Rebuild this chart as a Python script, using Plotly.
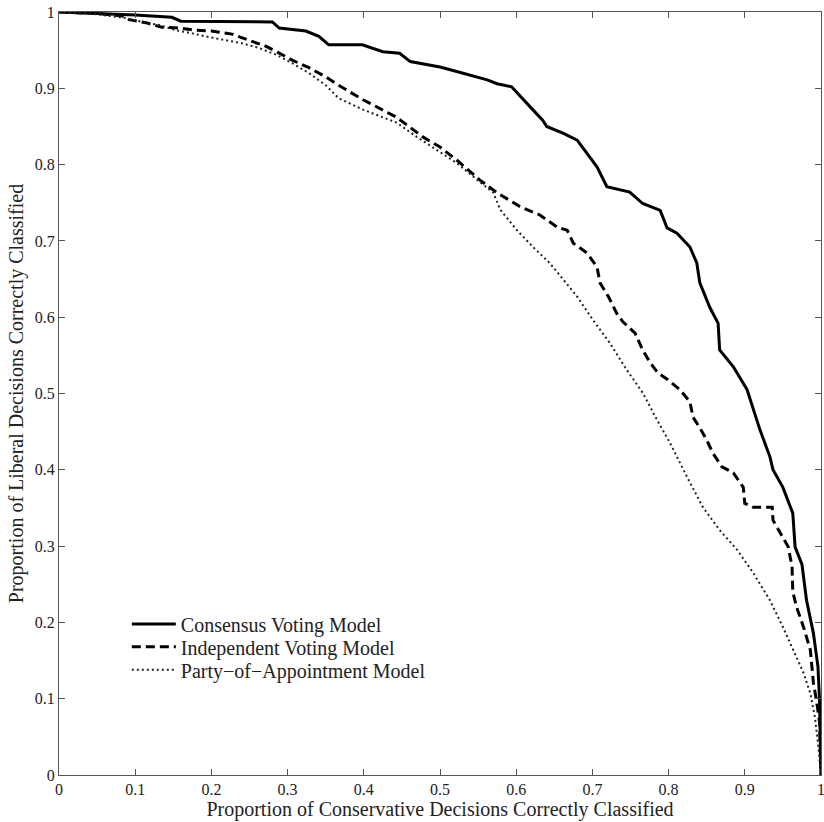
import plotly.graph_objects as go

# Consensus Voting Model (solid)
cons_x = [0.0, 0.05, 0.10, 0.148, 0.16, 0.28, 0.289, 0.324, 0.341, 0.354, 0.398, 0.425, 0.447, 0.461,
          0.50, 0.522, 0.562, 0.575, 0.594, 0.618, 0.635, 0.64, 0.662, 0.68, 0.693, 0.706, 0.719,
          0.749, 0.766, 0.789, 0.798, 0.811, 0.828, 0.837, 0.841, 0.854, 0.865, 0.867, 0.885,
          0.903, 0.92, 0.933, 0.937, 0.95, 0.963, 0.966, 0.975, 0.981, 0.99, 0.996, 0.998, 1.0]
cons_y = [1.0, 0.998, 0.996, 0.993, 0.988, 0.987, 0.979, 0.975, 0.968, 0.957, 0.957, 0.948, 0.946, 0.935,
          0.928, 0.922, 0.911, 0.906, 0.902, 0.876, 0.858, 0.85, 0.841, 0.832, 0.815, 0.797, 0.771,
          0.764, 0.749, 0.740, 0.717, 0.710, 0.692, 0.671, 0.645, 0.613, 0.592, 0.557, 0.535,
          0.505, 0.452, 0.417, 0.40, 0.377, 0.343, 0.299, 0.276, 0.229, 0.186, 0.142, 0.10, 0.0]

# Independent Voting Model (dashed)
ind_x = [0.0, 0.05, 0.083, 0.092, 0.114, 0.135, 0.157, 0.18, 0.20, 0.227, 0.249, 0.272, 0.289, 0.306,
         0.328, 0.35, 0.367, 0.399, 0.443, 0.478, 0.50, 0.522, 0.552, 0.575, 0.605, 0.631, 0.654,
         0.667, 0.675, 0.693, 0.706, 0.71, 0.721, 0.732, 0.74, 0.756, 0.766, 0.776, 0.786, 0.799,
         0.815, 0.828, 0.832, 0.841, 0.85, 0.858, 0.87, 0.885, 0.898, 0.90, 0.911, 0.936, 0.937,
         0.95, 0.957, 0.962, 0.963, 0.968, 0.977, 0.986, 0.99, 0.994, 0.998, 1.0]
ind_y = [1.0, 0.998, 0.995, 0.99, 0.986, 0.98, 0.979, 0.976, 0.975, 0.971, 0.963, 0.955, 0.946, 0.937,
         0.927, 0.915, 0.904, 0.885, 0.862, 0.836, 0.823, 0.806, 0.78, 0.763, 0.745, 0.734, 0.718,
         0.714, 0.697, 0.684, 0.666, 0.645, 0.627, 0.605, 0.594, 0.579, 0.557, 0.54, 0.527, 0.518,
         0.505, 0.489, 0.469, 0.455, 0.439, 0.422, 0.404, 0.396, 0.377, 0.356, 0.351, 0.351, 0.334,
         0.312, 0.299, 0.273, 0.24, 0.22, 0.194, 0.164, 0.121, 0.098, 0.07, 0.0]

# Party-of-Appointment Model (dotted)
party_x = [0.0, 0.05, 0.088, 0.109, 0.131, 0.154, 0.175, 0.197, 0.219, 0.24, 0.262, 0.285, 0.306,
           0.328, 0.35, 0.367, 0.399, 0.443, 0.47, 0.496, 0.522, 0.549, 0.57, 0.579, 0.601, 0.622,
           0.644, 0.662, 0.68, 0.701, 0.723, 0.745, 0.766, 0.785, 0.802, 0.824, 0.845, 0.867, 0.89,
           0.911, 0.933, 0.95, 0.963, 0.977, 0.986, 0.992, 0.996, 1.0]
party_y = [1.0, 0.997, 0.992, 0.987, 0.983, 0.976, 0.972, 0.967, 0.963, 0.959, 0.953, 0.944, 0.933,
           0.92, 0.904, 0.887, 0.872, 0.855, 0.836, 0.819, 0.802, 0.78, 0.763, 0.741, 0.714, 0.692,
           0.671, 0.649, 0.627, 0.596, 0.566, 0.531, 0.501, 0.465, 0.435, 0.391, 0.351, 0.321, 0.295,
           0.265, 0.229, 0.194, 0.164, 0.134, 0.107, 0.076, 0.042, 0.0]

series_names = ["Consensus Voting Model", "Independent Voting Model", "Party\u2212of\u2212Appointment Model"]
tick_vals = [0, 0.1, 0.2, 0.3, 0.4, 0.5, 0.6, 0.7, 0.8, 0.9, 1]
tick_text = ["0", "0.1", "0.2", "0.3", "0.4", "0.5", "0.6", "0.7", "0.8", "0.9", "1"]

FONT = "Liberation Serif, Times New Roman, serif"

fig = go.Figure()
fig.add_trace(go.Scatter(x=cons_x, y=cons_y, mode="lines", name=series_names[0], legend="legend",
                         line=dict(color="black", width=3)))
fig.add_trace(go.Scatter(x=ind_x, y=ind_y, mode="lines", name=series_names[1], legend="legend2",
                         line=dict(color="black", width=3, dash="9px,5px")))
fig.add_trace(go.Scatter(x=party_x, y=party_y, mode="lines", name=series_names[2], legend="legend3",
                         line=dict(color="#222", width=2, dash="2px,3px")))

axis_common = dict(
    range=[0, 1], tickvals=tick_vals, ticktext=tick_text,
    ticks="inside", ticklen=6, tickcolor="#555", tickwidth=1,
    showline=True, linecolor="#555", linewidth=1, mirror="ticks",
    showgrid=False, zeroline=False, ticklabeloverflow="allow",
    tickfont=dict(family=FONT, size=16, color="#222"),
)

leg_common = dict(x=0.089, xanchor="left", yanchor="middle",
                  bgcolor="rgba(0,0,0,0)", borderwidth=0,
                  font=dict(family=FONT, size=20, color="#222"),
                  itemwidth=44)

fig.update_layout(
    width=824, height=822,
    margin=dict(l=59, r=3, t=12, b=47, autoexpand=False),
    paper_bgcolor="white", plot_bgcolor="white",
    font=dict(family=FONT, color="#222"),
    xaxis=dict(**axis_common,
               title=dict(text="Proportion of Conservative Decisions Correctly Classified",
                          font=dict(family=FONT, size=20), standoff=0)),
    yaxis=dict(**axis_common,
               title=dict(text="Proportion of Liberal Decisions Correctly Classified",
                          font=dict(family=FONT, size=20), standoff=5)),
    legend=dict(**leg_common, y=0.198),
    legend2=dict(**leg_common, y=0.168),
    legend3=dict(**leg_common, y=0.138),
    showlegend=True,
)

fig.write_html(
    "out.html",
    config={"displayModeBar": False},
    post_script=("document.documentElement.style.margin='0';"
                 "document.body.style.margin='0';"
                 "document.documentElement.style.overflow='hidden';"
                 "document.body.style.overflow='hidden';"),
)
